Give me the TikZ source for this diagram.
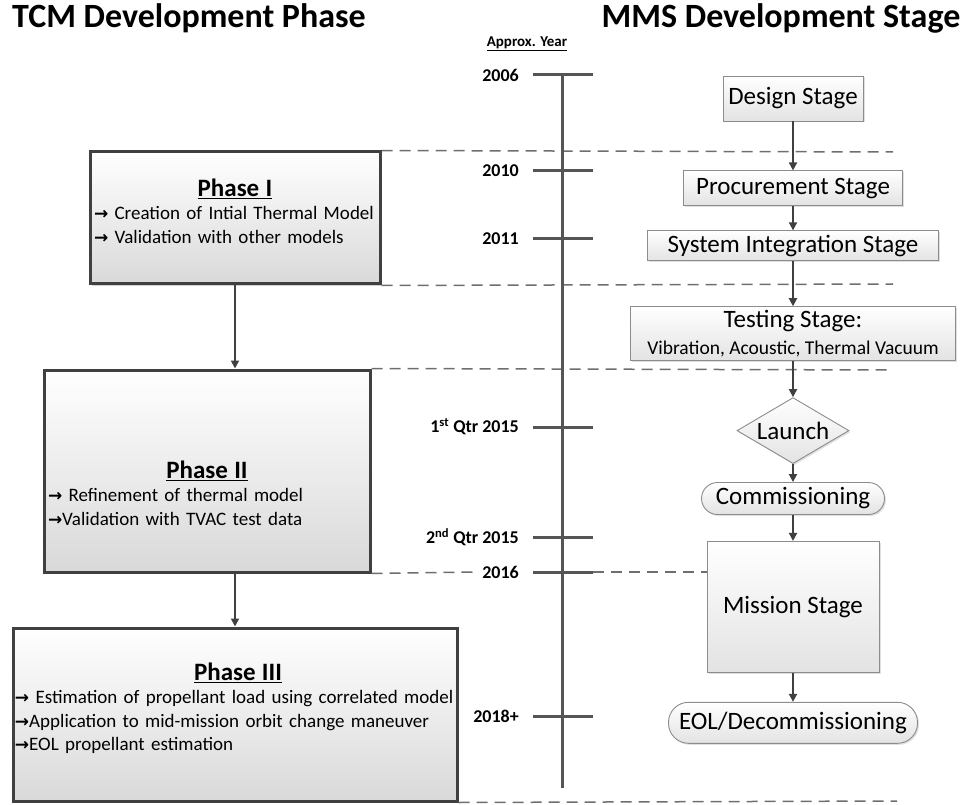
\documentclass[tikz,border=0pt]{standalone}
\usepackage{fontspec}
\setmainfont{Carlito}
\newfontfamily\arrowfont{DejaVu Sans}
\usetikzlibrary{arrows.meta,positioning,shapes.geometric,shadows}
\definecolor{tlgray}{RGB}{85,85,85}
\definecolor{boxedge}{RGB}{64,64,64}
\definecolor{stageedge}{RGB}{140,140,140}
\definecolor{dashgray}{RGB}{110,110,110}
\newcommand{\tcmarr}{{\arrowfont\bfseries\fontsize{17}{23}\selectfont →}}
\newcommand{\phasehead}[1]{\makebox[\linewidth][c]{\fontsize{25}{32}\selectfont\bfseries\underline{#1}}}

\begin{document}
\begin{tikzpicture}[
    x=1pt, y=-1pt,
    font=\fontsize{25}{30}\selectfont,
    title/.style={font=\fontsize{34}{40}\selectfont\bfseries},
    phase/.style={draw=boxedge, line width=3pt, top color=white, bottom color=black!15, inner sep=0pt,
      drop shadow={shadow xshift=2pt, shadow yshift=-2pt, fill=black!35}},
    phasetext/.style={align=left, inner sep=0pt, font=\fontsize{19}{23.5}\selectfont},
    stage/.style={draw=stageedge, line width=0.9pt, top color=white, bottom color=black!11, inner sep=0pt, align=center,
      drop shadow={shadow xshift=1.5pt, shadow yshift=-1.5pt, fill=black!25}},
    yearlbl/.style={anchor=east, fill=white, inner sep=3pt, font=\fontsize{18}{22}\selectfont\bfseries},
    tl/.style={draw=tlgray, line width=3pt},
    sep/.style={draw=dashgray, line width=1.5pt, dash pattern=on 11pt off 7pt},
    flow/.style={draw=boxedge, line width=1.8pt, -{Triangle[length=8pt, width=8pt]}}
  ]
    \useasboundingbox (0,0) rectangle (967,805);

    % headings
    \node[title] (tcmttl) at (189,18) {TCM Development Phase};
    \node[title] (mmsttl) at (781,18) {MMS Development Stage};
    \node[font=\fontsize{15}{18}\selectfont\bfseries] (apx) at (527,44) {\underline{Approx. Year}};

    % TCM phases
    \node[phase, minimum width=290pt, minimum height=132pt] (p1) at (235,218) {};
    \node[phase, minimum width=326pt, minimum height=202pt] (p2) at (207,471) {};
    \node[phase, minimum width=444pt, minimum height=173pt] (p3) at (235,714.5) {};
    \node[phasetext, text width=282pt] (p1txt) at ([yshift=7pt]p1.center)
      {\phasehead{Phase I}\\\tcmarr{} Creation of Intial Thermal Model\\\tcmarr{} Validation with other models};
    \node[phasetext, text width=318pt] (p2txt) at ([yshift=-22pt]p2.center)
      {\phasehead{Phase II}\\\tcmarr{} Refinement of thermal model\\\tcmarr{}Validation with TVAC test data};
    \node[phasetext, text width=446pt] (p3txt) at ([xshift=3pt, yshift=6pt]p3.center)
      {\phasehead{Phase III}\\\tcmarr{} Estimation of propellant load using correlated model\\
       \tcmarr{}Application to mid-mission orbit change maneuver\\\tcmarr{}EOL propellant estimation};

    % MMS stages
    \node[stage, minimum width=140pt, minimum height=45pt] (design) at (793,98.5) {Design Stage};
    \node[stage, below=49pt of design, minimum width=219pt, minimum height=35pt] (proc) {Procurement Stage};
    \node[stage, below=24pt of proc, minimum width=291pt, minimum height=30pt] (sysint) {System Integration Stage};
    \node[stage, below=45pt of sysint, minimum width=325pt, minimum height=54pt] (test)
      {Testing Stage:\\[-3pt]{\fontsize{19.5}{23}\selectfont Vibration, Acoustic, Thermal Vacuum}};
    \node[stage, diamond, aspect=1.7, minimum width=112pt, minimum height=66pt, below=36pt of test] (launch) {Launch};
    \node[stage, rounded corners=16pt, below=18pt of launch, minimum width=183pt, minimum height=32pt] (comm) {Commissioning};
    \node[stage, below=26pt of comm, minimum width=172pt, minimum height=131pt] (mission) {Mission Stage};
    \node[stage, rounded corners=20pt, below=29pt of mission, minimum width=249pt, minimum height=41pt] (eol) {EOL/Decommissioning};

    % phase boundaries
    \coordinate (sepA) at (893,152);
    \coordinate (sepB) at (893,284);
    \coordinate (sepC) at (893,370);
    \coordinate (sepE) at (897,801);
    \draw[sep] (p1.north east) -- (sepA);
    \draw[sep] (p1.south east) -- (sepB);
    \draw[sep] (p2.north east) -- (sepC);
    \draw[sep] (p3.south east) -- (sepE);

    % timeline
    \coordinate (tltop) at (562,75);
    \coordinate (tlbot) at (562,788);
    \draw[tl] (tltop) -- (tlbot);
    \foreach \yy/\lbl in {75/2006, 171/2010, 239/2011, 427/{1\textsuperscript{st} Qtr 2015},
        537/{2\textsuperscript{nd} Qtr 2015}, 572/2016, 716/2018+} {
      \coordinate (tk\yy) at (562,\yy);
      \node[yearlbl] (yr\yy) at (522,\yy) {\lbl};
      \draw[tl] ([xshift=-29pt]tk\yy) -- ([xshift=31pt]tk\yy);
    }
    \draw[sep] (p2.south east) -- (yr572.west);
    \draw[sep] ([xshift=31pt]tk572) -- (mission.west |- tk572);

    % connectors
    \draw[flow] (p1.south) -- (p1.south |- p2.north);
    \draw[flow] (p2.south -| p3.north) -- (p3.north);
    \foreach \a/\b in {design/proc, proc/sysint, sysint/test, test/launch, launch/comm, comm/mission, mission/eol}
      \draw[flow] (\a) -- (\b);
  \end{tikzpicture}
\end{document}
